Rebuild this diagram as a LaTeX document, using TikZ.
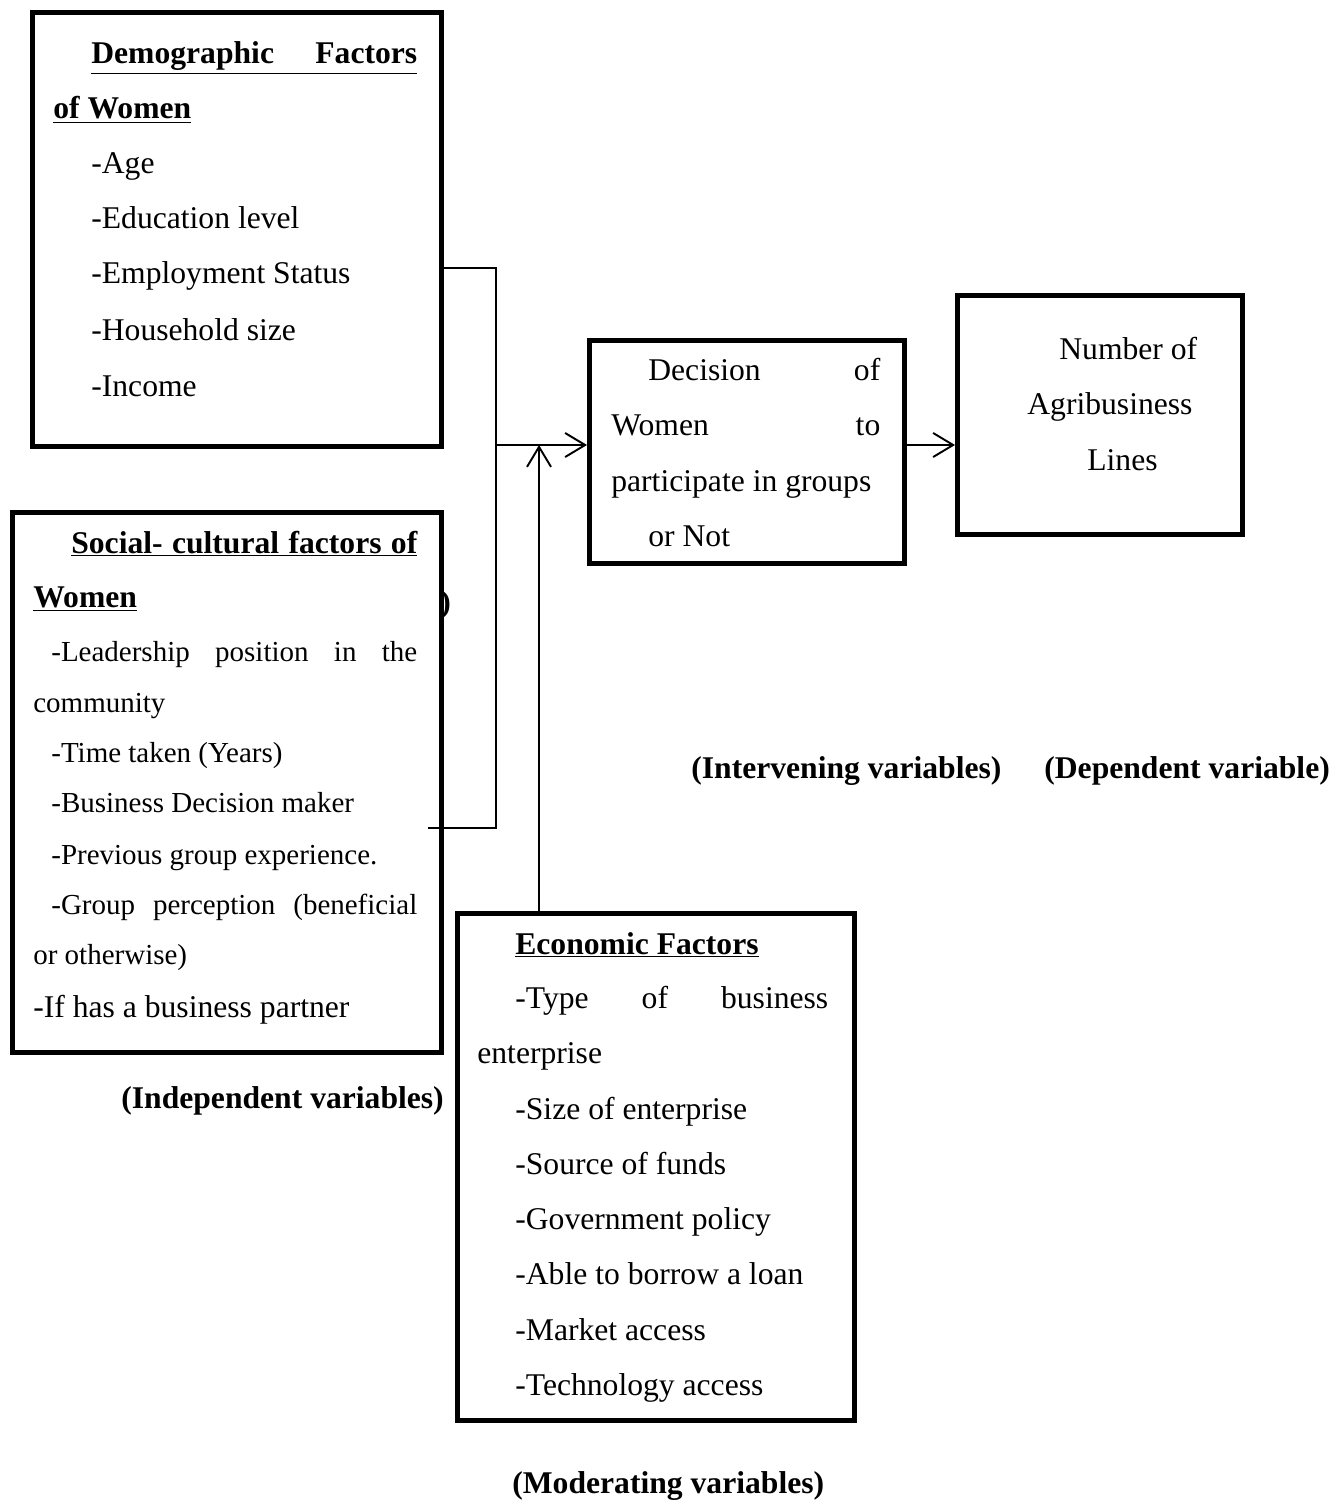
\documentclass[tikz,border=0pt]{standalone}
\usepackage{fontspec}
\setmainfont{Liberation Serif}
\usetikzlibrary{arrows.meta,positioning}

\tikzset{
  box/.style={draw, line width=3pt, anchor=north west, inner sep=0pt},
  txt/.style={anchor=base west, inner sep=0pt, font=\fontsize{18}{22}\selectfont},
  small/.style={txt, font=\fontsize{16.5}{20}\selectfont},
  lbl/.style={txt, font=\fontsize{18}{22}\selectfont\bfseries},
  link/.style={line width=1.1pt},
  arr/.style={link, -{Straight Barb[length=4mm,width=4.8mm,line width=1.1pt]}}
}

\begin{document}
\begin{tikzpicture}[x=0.02cm, y=-0.02cm]
    \useasboundingbox (0,0) rectangle (1344,1500);

    % Boxes
    \node[box, minimum width=8.18cm, minimum height=8.68cm] (demo) at (30,10) {};
    \node[box, minimum width=6.3cm, minimum height=4.46cm] (decision) at (587,338) {};
    \node[box, minimum width=5.7cm, minimum height=4.78cm] (number) at (955,293) {};
    \node[box, minimum width=8.58cm, minimum height=10.8cm] (social) at (10,510) {};
    \node[box, minimum width=7.94cm, minimum height=10.14cm] (econ) at (455,911) {};

    % Demographic factors
    \node[txt] (demoA) at (91,64) {\underline{\makebox[6.52cm][s]{\bfseries Demographic\hfill Factors}}};
    \node[txt] (demoB) at (53,119) {\underline{\bfseries of Women}};
    \node[txt] (demoC) at (91,174) {-Age};
    \node[txt] (demoD) at (91,229) {-Education level};
    \node[txt] (demoE) at (91,284) {-Employment Status};
    \node[txt] (demoF) at (91,340) {-Household size};
    \node[txt] (demoG) at (91,396) {-Income};

    % Decision
    \node[txt] (decA) at (648,380) {\makebox[4.64cm][s]{Decision\hfill of}};
    \node[txt] (decB) at (611,435) {\makebox[5.38cm][s]{Women\hfill to}};
    \node[txt] (decC) at (611,491) {participate in groups};
    \node[txt] (decD) at (648,546) {or Not};

    % Number of lines
    \node[txt] (numA) at (1059,359) {Number of};
    \node[txt] (numB) at (1027,414) {Agribusiness};
    \node[txt] (numC) at (1087,470) {Lines};

    % Social-cultural factors
    \node[txt] (socA) at (71,553) {\underline{\makebox[6.92cm][s]{\bfseries Social- cultural factors of}}};
    \node[txt] (socB) at (33,607) {\underline{\bfseries Women}};
    \node[small] (socC) at (51,661) {\makebox[7.32cm][s]{-Leadership\hfill position\hfill in\hfill the}};
    \node[small] (socD) at (33,712) {community};
    \node[small] (socE) at (51,762) {-Time taken (Years)};
    \node[small] (socF) at (51,812) {-Business Decision maker};
    \node[small] (socG) at (51,864) {-Previous group experience.};
    \node[small] (socH) at (51,914) {\makebox[7.32cm][s]{-Group\hfill perception\hfill (beneficial}};
    \node[small] (socI) at (33,964) {or otherwise)};
    \node[txt] (socJ) at (33,1017) {-If has a business partner};
    \node[lbl] (stray) at (440,612) {)};

    % Economic factors
    \node[txt] (ecoA) at (515,954) {\underline{\bfseries Economic Factors}};
    \node[txt] (ecoB) at (515,1008) {\makebox[6.26cm][s]{-Type\hfill of\hfill business}};
    \node[txt] (ecoC) at (477,1063) {enterprise};
    \node[txt] (ecoD) at (515,1119) {-Size of enterprise};
    \node[txt] (ecoE) at (515,1174) {-Source of funds};
    \node[txt] (ecoF) at (515,1229) {-Government policy};
    \node[txt] (ecoG) at (515,1284) {-Able to borrow a loan};
    \node[txt] (ecoH) at (515,1340) {-Market access};
    \node[txt] (ecoI) at (515,1395) {-Technology access};

    % Variable labels
    \node[lbl] (intLbl) at (691,778) {(Intervening variables)};
    \node[lbl] (depLbl) at (1044,778) {(Dependent variable)};
    \node[lbl] (indLbl) at (121,1108) {(Independent variables)};
    \node[lbl] (modLbl) at (512,1493) {(Moderating variables)};

    % Connectors
    \coordinate (joinTop) at (496,268);
    \coordinate (joinBot) at (496,828);
    \coordinate (joinMid) at (496,445);
    \coordinate (socTail) at (428,828);
    \coordinate (modIn) at (539,445);
    \draw[link] (demo.east |- joinTop) -- (joinTop) -- (joinBot) -- (socTail);
    \draw[arr] (joinMid) -- (decision.west |- joinMid);
    \draw[arr] (econ.north -| modIn) -- (modIn);
    \draw[arr] (decision.east |- joinMid) -- (number.west |- joinMid);
\end{tikzpicture}
\end{document}
